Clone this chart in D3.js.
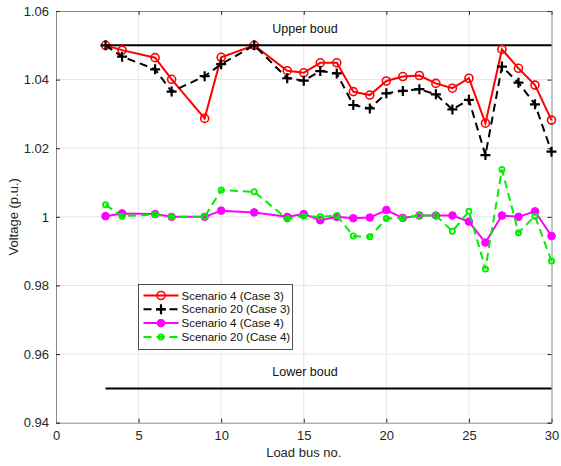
<!DOCTYPE html>
<html>
<head>
<meta charset="utf-8">
<script src="https://cdn.jsdelivr.net/npm/d3@7"></script>
<style>
body { margin: 0; background: #fff; }
text { font-family: "Liberation Sans", Arial, sans-serif; }
</style>
</head>
<body>
<div id="chart"></div>
<script>
var width = 561; // svg width
var height = 466; // svg height
var margin = {left: 56, right: 8, top: 11, bottom: 44};

// load buses shown in the figure
var buses = [3, 4, 6, 7, 9, 10, 12, 14, 15, 16, 17, 18, 19, 20, 21, 22, 23, 24, 25, 26, 27, 28, 29, 30];

// Scenario 4 (Case 3)
var s4c3 = [1.0500, 1.0486, 1.0464, 1.0401, 1.0287, 1.0465, 1.0500, 1.0426, 1.0420, 1.0449, 1.0449, 1.0365,
	1.0355, 1.0396, 1.0409, 1.0412, 1.0389, 1.0375, 1.0404, 1.0273, 1.0488, 1.0433, 1.0384, 1.0282];
// Scenario 20 (Case 3)
var s20c3 = [1.0500, 1.0467, 1.0430, 1.0365, 1.0410, 1.0445, 1.0500, 1.0404, 1.0397, 1.0425, 1.0418, 1.0326,
	1.0316, 1.0360, 1.0367, 1.0372, 1.0357, 1.0313, 1.0341, 1.0180, 1.0438, 1.0391, 1.0328, 1.0190];
// Scenario 4 (Case 4)
var s4c4 = [1.0002, 1.0010, 1.0008, 1.0000, 1.0000, 1.0018, 1.0013, 1.0000, 1.0008, 0.9990, 1.0000, 0.9996,
	0.9998, 1.0020, 0.9997, 1.0004, 1.0004, 1.0004, 0.9986, 0.9925, 1.0004, 1.0000, 1.0016, 0.9944];
// Scenario 20 (Case 4)
var s20c4 = [1.0035, 1.0002, 1.0007, 1.0000, 1.0000, 1.0078, 1.0073, 0.9994, 1.0002, 1.0000, 1.0004, 0.9944,
	0.9942, 0.9995, 0.9997, 1.0004, 1.0004, 0.9958, 1.0016, 0.9848, 1.0138, 0.9954, 1.0002, 0.9871];

var xTicks = [0, 5, 10, 15, 20, 25, 30];
var yTicks = [0.94, 0.96, 0.98, 1, 1.02, 1.04, 1.06];
var bounds = [{name: "Upper boud", v: 1.05}, {name: "Lower boud", v: 0.95}];

var series = [
	{name: "Scenario 4 (Case 3)", vals: s4c3, color: "#ff0000", dash: null, marker: "circle"},
	{name: "Scenario 20 (Case 3)", vals: s20c3, color: "#000000", dash: "8,5", marker: "plus"},
	{name: "Scenario 4 (Case 4)", vals: s4c4, color: "#ff00ff", dash: null, marker: "dot"},
	{name: "Scenario 20 (Case 4)", vals: s20c4, color: "#00ee00", dash: "8,5", marker: "small"}
];

var x = d3.scaleLinear().domain([0, 30]).range([margin.left, width - margin.right - 1.5]);
var y = d3.scaleLinear().domain([0.94, 1.06]).range([height - margin.bottom + 0.7, margin.top]);

var svg = d3.select("#chart").append("svg")
	.attr("width", width)
	.attr("height", height);

// grid
svg.append("g").selectAll("line").data(xTicks.slice(1, -1)).enter().append("line")
	.attr("x1", d => x(d)).attr("x2", d => x(d))
	.attr("y1", y(0.94)).attr("y2", y(1.06))
	.attr("stroke", "#e6e6e6");
svg.append("g").selectAll("line").data(yTicks.slice(1, -1)).enter().append("line")
	.attr("x1", x(0)).attr("x2", x(30))
	.attr("y1", d => y(d)).attr("y2", d => y(d))
	.attr("stroke", "#e6e6e6");

// axes (matlab style, ticks inward, box on)
var xAxisB = d3.axisBottom(x).tickValues(xTicks).tickSize(-4).tickPadding(8).tickFormat(d3.format("d"));
var xAxisT = d3.axisTop(x).tickValues(xTicks).tickSize(-4).tickFormat("");
var yAxisL = d3.axisLeft(y).tickValues(yTicks).tickSize(-4).tickPadding(7).tickFormat(d => d == 1 ? "1" : d3.format(".2f")(d));
var yAxisR = d3.axisRight(y).tickValues(yTicks).tickSize(-4).tickFormat("");

function styleAxis(g) {
	g.select(".domain").attr("stroke", "#8a8a8a");
	g.selectAll(".tick line").attr("stroke", "#262626");
	g.selectAll("text").attr("fill", "#262626").style("font-size", "13px");
}
svg.append("g").attr("transform", `translate(0,${y(0.94)})`).call(xAxisB).call(styleAxis);
svg.append("g").attr("transform", `translate(0,${y(1.06)})`).call(xAxisT).call(styleAxis);
svg.append("g").attr("transform", `translate(${x(0)},0)`).call(yAxisL).call(styleAxis);
svg.append("g").attr("transform", `translate(${x(30)},0)`).call(yAxisR).call(styleAxis);

// axis labels
svg.append("text")
	.attr("x", (x(0) + x(30)) / 2).attr("y", 457)
	.attr("text-anchor", "middle").style("font-size", "13px").attr("fill", "#262626")
	.text("Load bus no.");
svg.append("text")
	.attr("transform", `translate(18,${(y(0.94) + y(1.06)) / 2}) rotate(-90)`)
	.attr("text-anchor", "middle").style("font-size", "13px").attr("fill", "#262626")
	.text("Voltage (p.u.)");

// bound lines with labels
bounds.forEach(function (b) {
	svg.append("line")
		.attr("x1", x(3)).attr("x2", x(30))
		.attr("y1", y(b.v)).attr("y2", y(b.v))
		.attr("stroke", "#000").attr("stroke-width", 2);
	svg.append("text")
		.attr("x", 305).attr("y", y(b.v) - 12)
		.attr("text-anchor", "middle").style("font-size", "12.5px").attr("fill", "#111")
		.text(b.name);
});

var line = d3.line().x(d => x(d[0])).y(d => y(d[1]));

function drawMarker(g, m, color) {
	if (m == "circle") {
		g.append("circle").attr("r", 4).attr("fill", "none").attr("stroke", color).attr("stroke-width", 1.6);
	} else if (m == "plus") {
		g.append("path").attr("d", "M-5,0H5M0,-5V5").attr("stroke", color).attr("stroke-width", 2.2);
	} else if (m == "dot") {
		g.append("circle").attr("r", 3.8).attr("fill", color).attr("stroke", color);
	} else {
		g.append("circle").attr("r", 2.6).attr("fill", "none").attr("stroke", color).attr("stroke-width", 1.8);
	}
}

series.forEach(function (s) {
	var pts = buses.map((b, i) => [b, s.vals[i]]);
	svg.append("path")
		.datum(pts)
		.attr("d", line)
		.attr("fill", "none")
		.attr("stroke", s.color)
		.attr("stroke-width", 2)
		.attr("stroke-dasharray", s.dash);
	svg.append("g").selectAll("g").data(pts).enter().append("g")
		.attr("transform", d => `translate(${x(d[0])},${y(d[1])})`)
		.each(function () { drawMarker(d3.select(this), s.marker, s.color); });
});

// legend
var legend = svg.append("g").attr("transform", "translate(138.5,284.5)");
legend.append("rect")
	.attr("width", 154).attr("height", 65)
	.attr("fill", "#fff").attr("stroke", "#262626").attr("stroke-width", 0.8);
var item = legend.selectAll("g").data(series).enter().append("g")
	.attr("transform", (d, i) => `translate(0,${11 + i * 13.8})`);
item.append("line")
	.attr("x1", 5).attr("x2", 40)
	.attr("stroke", d => d.color).attr("stroke-width", 2)
	.attr("stroke-dasharray", d => d.dash);
item.append("g").attr("transform", "translate(22.5,0)")
	.each(function (d) { drawMarker(d3.select(this), d.marker, d.color); });
item.append("text")
	.attr("x", 43).attr("y", 4)
	.style("font-size", "11.5px").attr("fill", "#111")
	.text(d => d.name);
</script>
</body>
</html>
